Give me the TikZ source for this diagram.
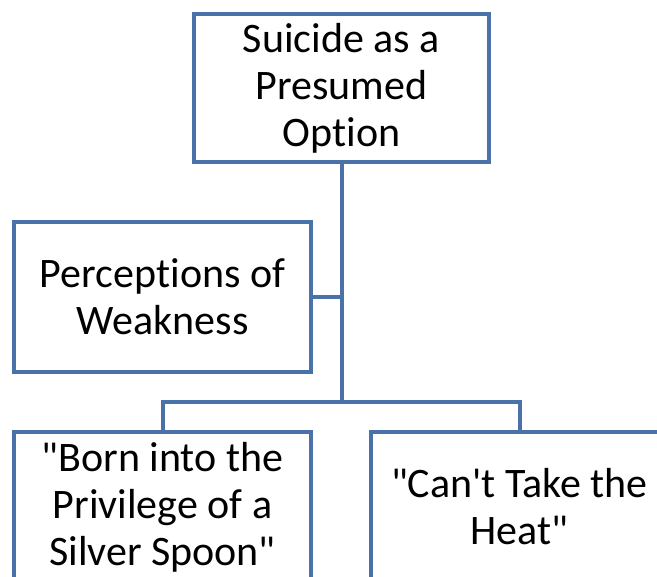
\documentclass[tikz,border=0pt]{standalone}
\usepackage{fontspec}
\setmainfont{Carlito}[Ligatures={TeXOff,CommonOff}]
\usepackage{tikz}
\definecolor{boxblue}{RGB}{74,114,168}

\begin{document}
\begin{tikzpicture}[x=1pt,y=-1pt,
  chartbox/.style={draw=boxblue, line width=4pt, fill=white, align=center,
    minimum width=297pt, minimum height=150pt, inner sep=0pt,
    font=\fontsize{42}{47}\selectfont},
  link/.style={draw=boxblue, line width=4pt}]
\useasboundingbox (0,0) rectangle (657,577);
\clip (0,0) rectangle (657,577);
%org chart boxes
\node [chartbox, minimum width=295pt, minimum height=148pt] (suicide) at (341.5,88) {Suicide as a\\Presumed\\Option};
\node [chartbox] (weakness) at (162.5,297) {Perceptions of\\Weakness};
\node [chartbox] (spoon) at (162.5,507) {"Born into the\\Privilege of a\\Silver Spoon"};
\node [chartbox] (heat) at (519.5,507) {"Can't Take the\\Heat"};
%connectors
\coordinate (bus) at (341.5,402);
\draw [link] (suicide.south) -- (bus);
\draw [link] (weakness.east) -- (weakness.east -| bus);
\draw [link] (bus) -| (spoon.north);
\draw [link] (bus) -| (heat.north);
\end{tikzpicture}
\end{document}
